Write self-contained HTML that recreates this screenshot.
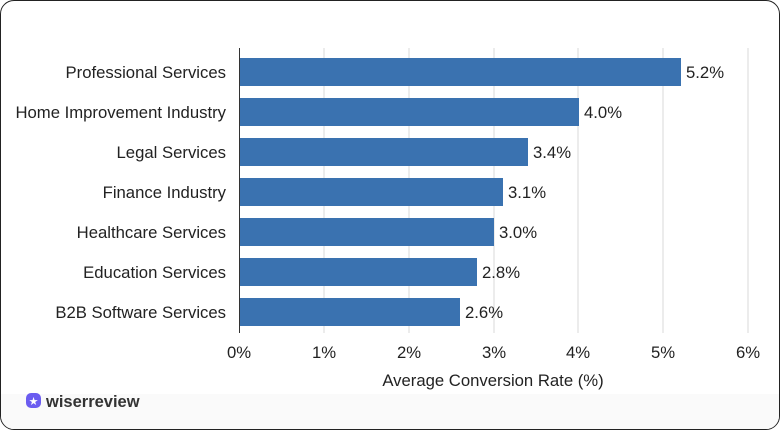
<!DOCTYPE html>
<html><head><style>
body{margin:0;background:#fff;}
.card{position:absolute;left:0;top:0;width:778px;height:428px;border:1px solid #222;border-radius:14px;overflow:hidden;background:#fff;}
.foot{position:absolute;left:0;top:393px;width:100%;height:40px;background:#fafafa;}
</style></head><body>
<div class="card"><div class="foot"></div></div>
<svg width="780" height="430" style="position:absolute;left:0;top:0" font-family="Liberation Sans, sans-serif">
<g stroke="#d8d8d8" stroke-width="1">
<line x1="324" y1="48" x2="324" y2="333"/><line x1="409" y1="48" x2="409" y2="333"/>
<line x1="494" y1="48" x2="494" y2="333"/><line x1="578" y1="48" x2="578" y2="333"/>
<line x1="663" y1="48" x2="663" y2="333"/><line x1="748" y1="48" x2="748" y2="333"/>
</g>
<line x1="239.5" y1="48" x2="239.5" y2="333" stroke="#333" stroke-width="1"/>
<g fill="#3a72b0">
<rect x="240" y="58" width="441" height="28"/>
<rect x="240" y="98" width="339" height="28"/>
<rect x="240" y="138" width="288" height="28"/>
<rect x="240" y="178" width="263" height="28"/>
<rect x="240" y="218" width="254" height="28"/>
<rect x="240" y="258" width="237" height="28"/>
<rect x="240" y="298" width="220" height="28"/>
</g>
<g font-size="16.7" fill="#222">
<g text-anchor="end">
<text x="226" y="78">Professional Services</text>
<text x="226" y="118">Home Improvement Industry</text>
<text x="226" y="158">Legal Services</text>
<text x="226" y="198">Finance Industry</text>
<text x="226" y="238">Healthcare Services</text>
<text x="226" y="278">Education Services</text>
<text x="226" y="318">B2B Software Services</text>
</g>
<text x="686" y="78">5.2%</text><text x="584" y="118">4.0%</text>
<text x="533" y="158">3.4%</text><text x="508" y="198">3.1%</text>
<text x="499" y="238">3.0%</text><text x="482" y="278">2.8%</text>
<text x="465" y="318">2.6%</text>
<g text-anchor="middle">
<text x="239" y="358">0%</text><text x="324" y="358">1%</text><text x="409" y="358">2%</text>
<text x="494" y="358">3%</text><text x="578" y="358">4%</text><text x="663" y="358">5%</text>
<text x="748" y="358">6%</text>
<text x="493" y="386">Average Conversion Rate (%)</text>
</g>
</g>
<rect x="26" y="393" width="15" height="15" rx="5" fill="#6b5cf0"/>
<text x="33.5" y="405" font-size="11" fill="#fff" text-anchor="middle">★</text>
<text x="46" y="407" font-size="16.5" font-weight="bold" fill="#333">wiserreview</text>
</svg>
</body></html>
